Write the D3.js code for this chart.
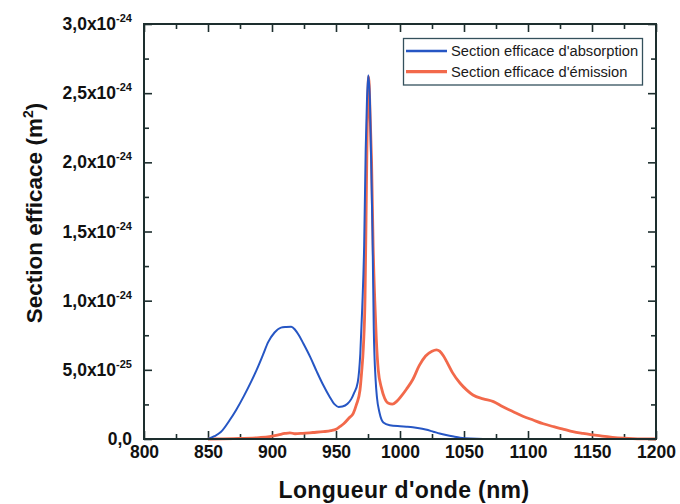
<!DOCTYPE html>
<html>
<head>
<meta charset="utf-8">
<script src="https://cdn.jsdelivr.net/npm/d3@7"></script>
<style>
  html, body { margin: 0; padding: 0; background: #ffffff; }
  svg { display: block; }
  text { font-family: "Liberation Sans", Arial, Helvetica, sans-serif; }
</style>
</head>
<body>
<svg id="chart" width="680" height="504"></svg>
<script>
// ---- Data (cross-sections in units of 1e-24 m²) ----
const absWavelengths = [850, 855, 860, 867, 872, 878, 884, 888, 893, 897, 902, 907, 911, 915, 918, 921, 924.5, 930, 935, 940, 945, 949, 952, 955, 959, 962, 964, 967, 969, 970.5, 972, 973.2, 974.2, 975.2, 976.5, 977.3, 978.5, 979.5, 981, 982, 984, 987, 992, 1000, 1005, 1010, 1015, 1020, 1026, 1031, 1036, 1042, 1047, 1055, 1065, 1100, 1165];
const absorption    = [0, 0.02, 0.05, 0.137, 0.21, 0.31, 0.42, 0.50, 0.61, 0.70, 0.77, 0.805, 0.81, 0.812, 0.79, 0.75, 0.69, 0.59, 0.487, 0.39, 0.306, 0.25, 0.232, 0.235, 0.255, 0.29, 0.33, 0.41, 0.62, 0.95, 1.4, 2.09, 2.45, 2.63, 2.45, 2.09, 1.5, 0.8, 0.42, 0.30, 0.19, 0.12, 0.10, 0.092, 0.089, 0.085, 0.078, 0.068, 0.053, 0.04, 0.029, 0.018, 0.01, 0.003, 0, 0, 0];

const emWavelengths = [850, 870, 890, 898, 905, 910, 914, 918, 924, 932, 940, 946, 950, 953, 956, 960, 963.5, 966, 968.75, 970, 971.4, 972.7, 973.5, 974.3, 975.5, 976.8, 977.8, 979, 980.3, 981.5, 983, 985.5, 988, 991, 994, 997.4, 1001, 1005, 1010, 1015, 1020, 1025, 1028.5, 1031, 1034, 1036.5, 1041, 1047, 1052, 1057, 1065, 1073, 1080, 1088.5, 1096, 1104, 1112, 1120, 1128, 1135, 1143, 1151, 1158, 1166, 1175, 1182, 1190, 1200];
const emission      = [0, 0.003, 0.01, 0.017, 0.03, 0.04, 0.045, 0.038, 0.041, 0.047, 0.053, 0.06, 0.07, 0.089, 0.11, 0.15, 0.186, 0.25, 0.354, 0.48, 0.667, 1.03, 1.6, 2.2, 2.62, 2.3, 2.0, 1.4, 1.0, 0.72, 0.5, 0.37, 0.295, 0.258, 0.252, 0.272, 0.31, 0.36, 0.43, 0.53, 0.60, 0.635, 0.645, 0.635, 0.60, 0.559, 0.48, 0.403, 0.355, 0.318, 0.29, 0.27, 0.235, 0.197, 0.165, 0.137, 0.11, 0.089, 0.07, 0.053, 0.04, 0.029, 0.02, 0.012, 0.006, 0.003, 0.001, 0];

const seriesNames = ["Section efficace d'absorption", "Section efficace d'émission"];

const xTickValues = [800, 850, 900, 950, 1000, 1050, 1100, 1150, 1200];
const xMinorTicks = [825, 875, 925, 975, 1025, 1075, 1125, 1175];
const yTickValues = [0, 0.5, 1.0, 1.5, 2.0, 2.5, 3.0];
const yTickMantissa = ["0,0", "5,0x10", "1,0x10", "1,5x10", "2,0x10", "2,5x10", "3,0x10"];
const yTickExponent = ["", "-25", "-24", "-24", "-24", "-24", "-24"];
const yMinorTicks = [0.25, 0.75, 1.25, 1.75, 2.25, 2.75];

const xTitle = "Longueur d'onde (nm)";
const yTitle = "Section efficace (m";

// ---- Layout ----
const colors = { abs: "#2656c4", em: "#f2694b", axis: "#1d2e2e" };
const mLeft = 144, mRight = 656, mTop = 24, mBottom = 439;

const svg = d3.select("#chart");
const x = d3.scaleLinear().domain([800, 1200]).range([mLeft, mRight]);
const y = d3.scaleLinear().domain([0, 3]).range([mBottom, mTop]);

function styleAxis(g) {
  g.select(".domain").remove();
  g.selectAll(".tick line").attr("stroke", colors.axis).attr("stroke-width", 1.6);
}

// Bottom axis (major with labels)
svg.append("g").attr("transform", `translate(0,${mBottom})`)
  .call(d3.axisBottom(x).tickValues(xTickValues).tickSize(-8).tickPadding(7).tickFormat(d3.format("d")))
  .call(styleAxis)
  .call(g => g.selectAll(".tick text")
    .attr("font-size", 17.5).attr("font-weight", "bold").attr("fill", "#111")
    .attr("font-family", "'Liberation Sans', Arial, sans-serif"));
svg.append("g").attr("transform", `translate(0,${mBottom})`)
  .call(d3.axisBottom(x).tickValues(xMinorTicks).tickSize(-5).tickFormat(""))
  .call(styleAxis);
// Top axis
svg.append("g").attr("transform", `translate(0,${mTop})`)
  .call(d3.axisTop(x).tickValues(xTickValues).tickSize(-8).tickFormat(""))
  .call(styleAxis);
svg.append("g").attr("transform", `translate(0,${mTop})`)
  .call(d3.axisTop(x).tickValues(xMinorTicks).tickSize(-5).tickFormat(""))
  .call(styleAxis);

// Left axis with superscript labels
svg.append("g").attr("transform", `translate(${mLeft},0)`)
  .call(d3.axisLeft(y).tickValues(yTickValues).tickSize(-8).tickPadding(12).tickFormat(""))
  .call(styleAxis)
  .call(g => g.selectAll(".tick text").each(function(d, i) {
    const t = d3.select(this)
      .attr("font-size", 17.5).attr("font-weight", "bold").attr("fill", "#111")
      .attr("font-family", "'Liberation Sans', Arial, sans-serif")
      .attr("dy", "0.32em");
    t.append("tspan").text(yTickMantissa[i]);
    if (yTickExponent[i]) {
      t.append("tspan").attr("font-size", 11).attr("dy", -8).text(yTickExponent[i]);
    }
  }));
svg.append("g").attr("transform", `translate(${mLeft},0)`)
  .call(d3.axisLeft(y).tickValues(yMinorTicks).tickSize(-5).tickFormat(""))
  .call(styleAxis);
// Right axis
svg.append("g").attr("transform", `translate(${mRight},0)`)
  .call(d3.axisRight(y).tickValues(yTickValues).tickSize(-8).tickFormat(""))
  .call(styleAxis);
svg.append("g").attr("transform", `translate(${mRight},0)`)
  .call(d3.axisRight(y).tickValues(yMinorTicks).tickSize(-5).tickFormat(""))
  .call(styleAxis);

// Curves
const line = d3.line().x(d => x(d[0])).y(d => y(d[1])).curve(d3.curveMonotoneX);
const emData = emWavelengths.map((w, i) => [w, emission[i]]);
const absData = absWavelengths.map((w, i) => [w, absorption[i]]);

svg.append("path").datum(emData).attr("d", line)
  .attr("fill", "none").attr("stroke", colors.em).attr("stroke-width", 2.8)
  .attr("stroke-linejoin", "round");
svg.append("path").datum(absData).attr("d", line)
  .attr("fill", "none").attr("stroke", colors.abs).attr("stroke-width", 2)
  .attr("stroke-linejoin", "round");

// Frame
svg.append("rect").attr("x", mLeft).attr("y", mTop)
  .attr("width", mRight - mLeft).attr("height", mBottom - mTop)
  .attr("fill", "none").attr("stroke", colors.axis).attr("stroke-width", 2);

// Legend
const lg = svg.append("g");
lg.append("rect").attr("x", 403.5).attr("y", 38.5).attr("width", 239).attr("height", 46.5)
  .attr("fill", "#fff").attr("stroke", "#34505c").attr("stroke-width", 1.3);
const legendItems = [
  { name: seriesNames[0], color: colors.abs, w: 2.6 },
  { name: seriesNames[1], color: colors.em, w: 3.2 }
];
legendItems.forEach((it, i) => {
  const cy = 51 + i * 20.7;
  lg.append("line").attr("x1", 406).attr("x2", 447).attr("y1", cy).attr("y2", cy)
    .attr("stroke", it.color).attr("stroke-width", it.w);
  lg.append("text").attr("x", 451).attr("y", cy).attr("dy", "0.35em")
    .attr("font-size", 14.7).attr("fill", "#1a1a1a").text(it.name);
});

// Axis titles
svg.append("text").attr("x", 404).attr("y", 498)
  .attr("text-anchor", "middle").attr("font-size", 23).attr("font-weight", "bold")
  .attr("letter-spacing", 0.4).attr("fill", "#111").text(xTitle);

const yt = svg.append("text").attr("transform", "translate(42,213) rotate(-90)")
  .attr("text-anchor", "middle").attr("font-size", 22.5).attr("font-weight", "bold").attr("fill", "#111");
yt.append("tspan").text(yTitle);
yt.append("tspan").attr("font-size", 14).attr("dy", -9).text("2");
yt.append("tspan").attr("dy", 9).text(")");
</script>
</body>
</html>
